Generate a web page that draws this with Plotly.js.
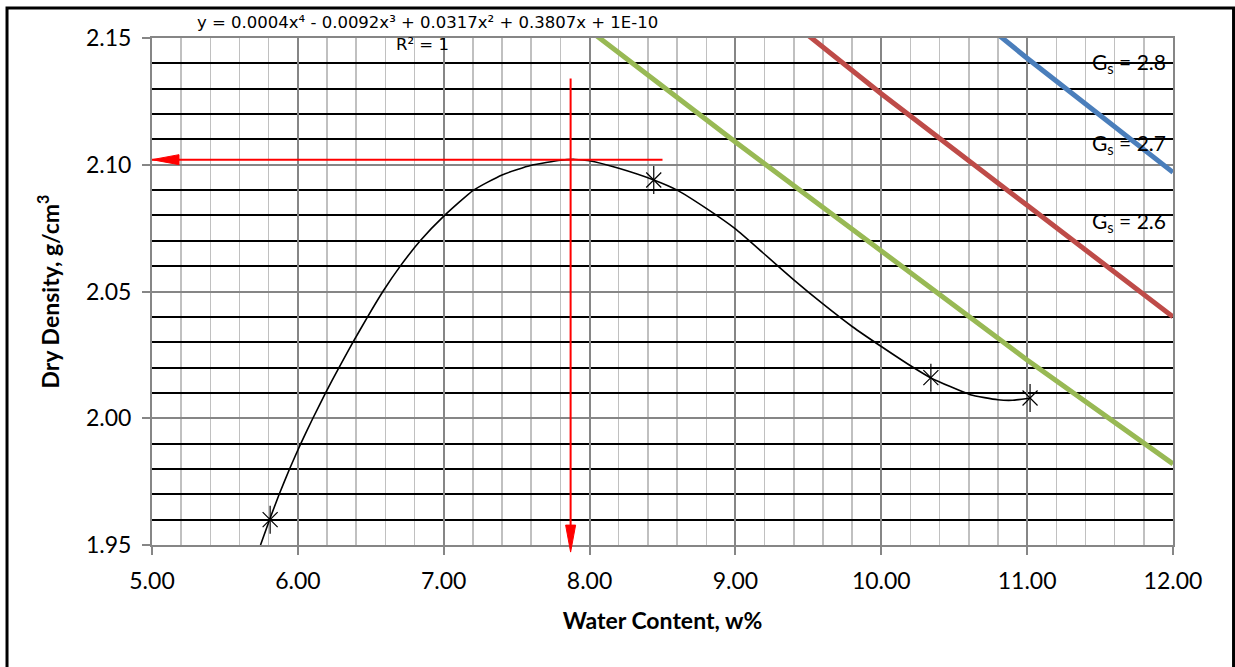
<!DOCTYPE html>
<html>
<head>
<meta charset="utf-8">
<script src="https://cdn.plot.ly/plotly-3.0.1.min.js"></script>
<style>
  html, body { margin: 0; padding: 0; background: #ffffff; }
  #chart { width: 1235px; height: 667px; }
</style>
</head>
<body>
<div id="chart"></div>
<script>
// ---- Compaction test points ----
const waterContent = [5.81, 8.44, 10.34, 11.02];
const dryDensity = [1.960, 2.094, 2.016, 2.008];

// ---- Poly trendline ----
const trendW = [5.744, 5.806, 5.872, 5.943, 6.020, 6.103, 6.190, 6.282, 6.378, 6.478, 6.583, 6.702, 6.839, 7.006, 7.205, 7.40, 7.60, 7.80, 7.90, 8.00, 8.20, 8.44, 8.60, 8.80, 9.00, 9.20, 9.40, 9.60, 9.80, 10.00, 10.22, 10.34, 10.61, 10.80, 10.90, 11.02];
const trendRho = [1.950, 1.960, 1.970, 1.980, 1.990, 2.000, 2.010, 2.020, 2.030, 2.040, 2.050, 2.060, 2.070, 2.080, 2.090, 2.0960, 2.0998, 2.1018, 2.1021, 2.1016, 2.0986, 2.0940, 2.0900, 2.0828, 2.0747, 2.0647, 2.0546, 2.0451, 2.0362, 2.0283, 2.0200, 2.0159, 2.0093, 2.0073, 2.0071, 2.0080];

// ---- Zero-air-voids lines ----
const zavW26 = [7, 8, 9, 10, 11, 12];
const zavRho26 = [2.199, 2.153, 2.109, 2.066, 2.023, 1.982];
const zavW27 = [9, 10, 11, 12];
const zavRho27 = [2.174, 2.128, 2.084, 2.040];
const zavW28 = [10, 11, 12];
const zavRho28 = [2.189, 2.142, 2.097];
const gsLabels = ['G<sub>s</sub> = 2.8', 'G<sub>s</sub> = 2.7', 'G<sub>s</sub> = 2.6'];
const gsLabelW = [11.43, 11.43, 11.43];
const gsLabelRho = [2.1400, 2.1082, 2.0776];

// ---- Optimum reading ----
const optimumW = 7.87;
const maxDryDensity = 2.102;
const mddLineW = [8.50, 5.00];
const omcLineRho = [2.134, 1.95];

// ---- Axis ranges ----
const xRange = [5, 12];
const yRange = [1.95, 2.15];

const FONT = 'Lato, "Open Sans", sans-serif';
const EQFONT = '"DejaVu Sans", Verdana, sans-serif';

const traces = [
  { x: zavW26, y: zavRho26, mode: 'lines', line: { color: '#98B954', width: 5 }, hoverinfo: 'skip' },
  { x: zavW27, y: zavRho27, mode: 'lines', line: { color: '#BE4B48', width: 5 }, hoverinfo: 'skip' },
  { x: zavW28, y: zavRho28, mode: 'lines', line: { color: '#4A7EBB', width: 5 }, hoverinfo: 'skip' },
  { x: trendW, y: trendRho, mode: 'lines', line: { color: '#000000', width: 1.6, shape: 'spline', smoothing: 0.5 }, hoverinfo: 'skip' },
  { x: mddLineW, y: [maxDryDensity, maxDryDensity], mode: 'lines', line: { color: '#FF0000', width: 2 }, hoverinfo: 'skip' },
  { x: [optimumW, optimumW], y: omcLineRho, mode: 'lines', line: { color: '#FF0000', width: 2 }, hoverinfo: 'skip' },
  { x: waterContent, y: dryDensity, mode: 'markers', marker: { symbol: 'x-thin-open', size: 15, color: '#000', line: { color: '#000', width: 1.2 } } },
  { x: waterContent, y: dryDensity, mode: 'markers', marker: { symbol: 'line-ns-open', size: 20, color: '#000', line: { color: '#000', width: 1.2 } } }
];

const annotations = [
  { xref: 'paper', yref: 'paper', x: 0.2703, y: 1.0300, xanchor: 'center', yanchor: 'middle', showarrow: false,
    text: 'y = 0.0004x⁴ - 0.0092x³ + 0.0317x² + 0.3807x + 1E-10', font: { family: EQFONT, size: 16.5, color: '#000' } },
  { xref: 'paper', yref: 'paper', x: 0.2654, y: 0.9870, xanchor: 'center', yanchor: 'middle', showarrow: false,
    text: 'R² = 1', font: { family: EQFONT, size: 16.5, color: '#000' } }
];
gsLabels.forEach(function (t, i) {
  annotations.push({ xref: 'x', yref: 'y', x: gsLabelW[i], y: gsLabelRho[i], xanchor: 'left', yanchor: 'middle', showarrow: false,
    text: t, font: { family: FONT, size: 21, color: '#000' } });
});

const shapes = [
  { type: 'path', xref: 'x', yref: 'y', xsizemode: 'pixel', ysizemode: 'pixel',
    xanchor: mddLineW[1], yanchor: maxDryDensity, path: 'M0,0 L27,5 L27,-5 Z',
    fillcolor: '#FF0000', line: { color: '#FF0000', width: 1 } },
  { type: 'path', xref: 'x', yref: 'paper', xsizemode: 'pixel', ysizemode: 'pixel',
    xanchor: optimumW, yanchor: -0.014, path: 'M0,0 L-5,27 L5,27 Z',
    fillcolor: '#FF0000', line: { color: '#FF0000', width: 1 } },
  { type: 'rect', xref: 'paper', yref: 'paper', x0: -0.142, x1: 1.0593, y0: -0.5, y1: 1.0592,
    line: { color: '#000', width: 3 }, fillcolor: 'rgba(0,0,0,0)', layer: 'above' }
];

const layout = {
  width: 1235, height: 667,
  margin: { l: 152, r: 62, t: 38, b: 122, pad: 0 },
  paper_bgcolor: '#ffffff', plot_bgcolor: '#ffffff',
  showlegend: false,
  font: { family: FONT, size: 23, color: '#000' },
  xaxis: {
    range: xRange, dtick: 1, tick0: 5, tickformat: '.2f',
    showgrid: true, gridcolor: '#868686', gridwidth: 2,
    minor: { dtick: 0.2, showgrid: true, gridcolor: '#C0C0C0', gridwidth: 1.5 },
    showline: true, linecolor: '#868686', linewidth: 2, mirror: true,
    ticks: 'outside', ticklen: 8, tickwidth: 2, tickcolor: '#868686',
    ticklabelstandoff: 6,
    zeroline: false,
    tickfont: { family: FONT, size: 23, color: '#000' },
    title: { text: '<b>Water Content, w%</b>', font: { family: FONT, size: 23, color: '#000' }, standoff: 20 }
  },
  yaxis: {
    range: yRange, dtick: 0.05, tick0: 1.95, tickformat: '.2f',
    showgrid: true, gridcolor: '#868686', gridwidth: 2,
    minor: { dtick: 0.01, showgrid: true, gridcolor: '#000000', gridwidth: 2 },
    showline: true, linecolor: '#868686', linewidth: 2, mirror: true,
    ticks: 'outside', ticklen: 8, tickwidth: 2, tickcolor: '#868686',
    ticklabelstandoff: 6,
    zeroline: false,
    tickfont: { family: FONT, size: 23, color: '#000' },
    title: { text: '<b>Dry Density, g/cm<sup>3</sup></b>', font: { family: FONT, size: 23, color: '#000' }, standoff: 20 }
  },
  annotations: annotations,
  shapes: shapes
};

Plotly.newPlot('chart', traces, layout, { displayModeBar: false, staticPlot: true });
</script>
</body>
</html>
